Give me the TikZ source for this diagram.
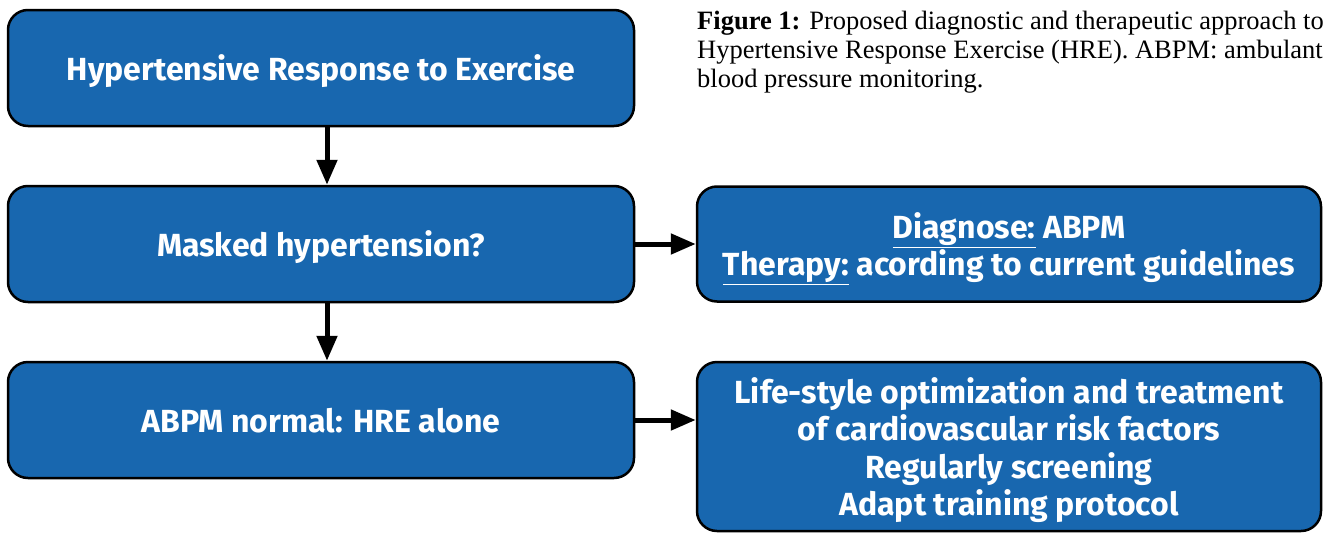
\documentclass[tikz,border=0pt]{standalone}
\usepackage{fontspec}
\newfontfamily\boxfont{Fira Sans}
\newfontfamily\capfont{Liberation Serif}
\usetikzlibrary{positioning,arrows.meta}

\definecolor{boxblue}{RGB}{24,103,175}

\tikzset{
  every step/.style={rectangle, rounded corners=20pt, draw=black, line width=2.5pt,
    fill=boxblue, text=white, align=center, text depth=0pt,
    font=\boxfont\bfseries\fontsize{32}{37.5}\selectfont},
  left step/.style={minimum width=626pt, minimum height=116pt},
  right step/.style={minimum width=624pt},
  flow/.style={-{Triangle[length=25pt,width=20pt]}, line width=5pt}
}

\begin{document}
\begin{tikzpicture}[x=1pt, y=-1pt]
\useasboundingbox (0,0) rectangle (1325,533);

% left column
\foreach \n/\t [count=\y from 0] in {hre/Hypertensive Response to Exercise,
    masked/Masked hypertension?, alone/ABPM normal: HRE alone}
  \node [every step, left step] (\n) at (321,68+176*\y) {\t};

% right column
\node [every step, right step, minimum height=115pt] (diag) at (1009,244)
  {\underline{Diagnose:} ABPM\\ \underline{Therapy:} acording to current guidelines};
\node [every step, right step, minimum height=169pt] (life) at (1009,446.5)
  {Life-style optimization and treatment\\ of cardiovascular risk factors\\
   Regularly screening\\ Adapt training protocol};

% caption
\node [anchor=north west, inner sep=0pt, align=left,
  font=\capfont\fontsize{26.5}{29}\selectfont] (caption) at (697,11)
  {\textbf{Figure 1:} Proposed diagnostic and therapeutic approach to\\
   Hypertensive Response Exercise (HRE). ABPM: ambulant\\
   blood pressure monitoring.};

% arrows
\draw [flow] ([xshift=6pt]hre.south) -- ([xshift=6pt]masked.north);
\draw [flow] ([xshift=6pt]masked.south) -- ([xshift=6pt]alone.north);
\draw [flow] (masked.east) -- (diag.west);
\draw [flow] (alone.east) -- (alone.east -| life.west);

\end{tikzpicture}
\end{document}
